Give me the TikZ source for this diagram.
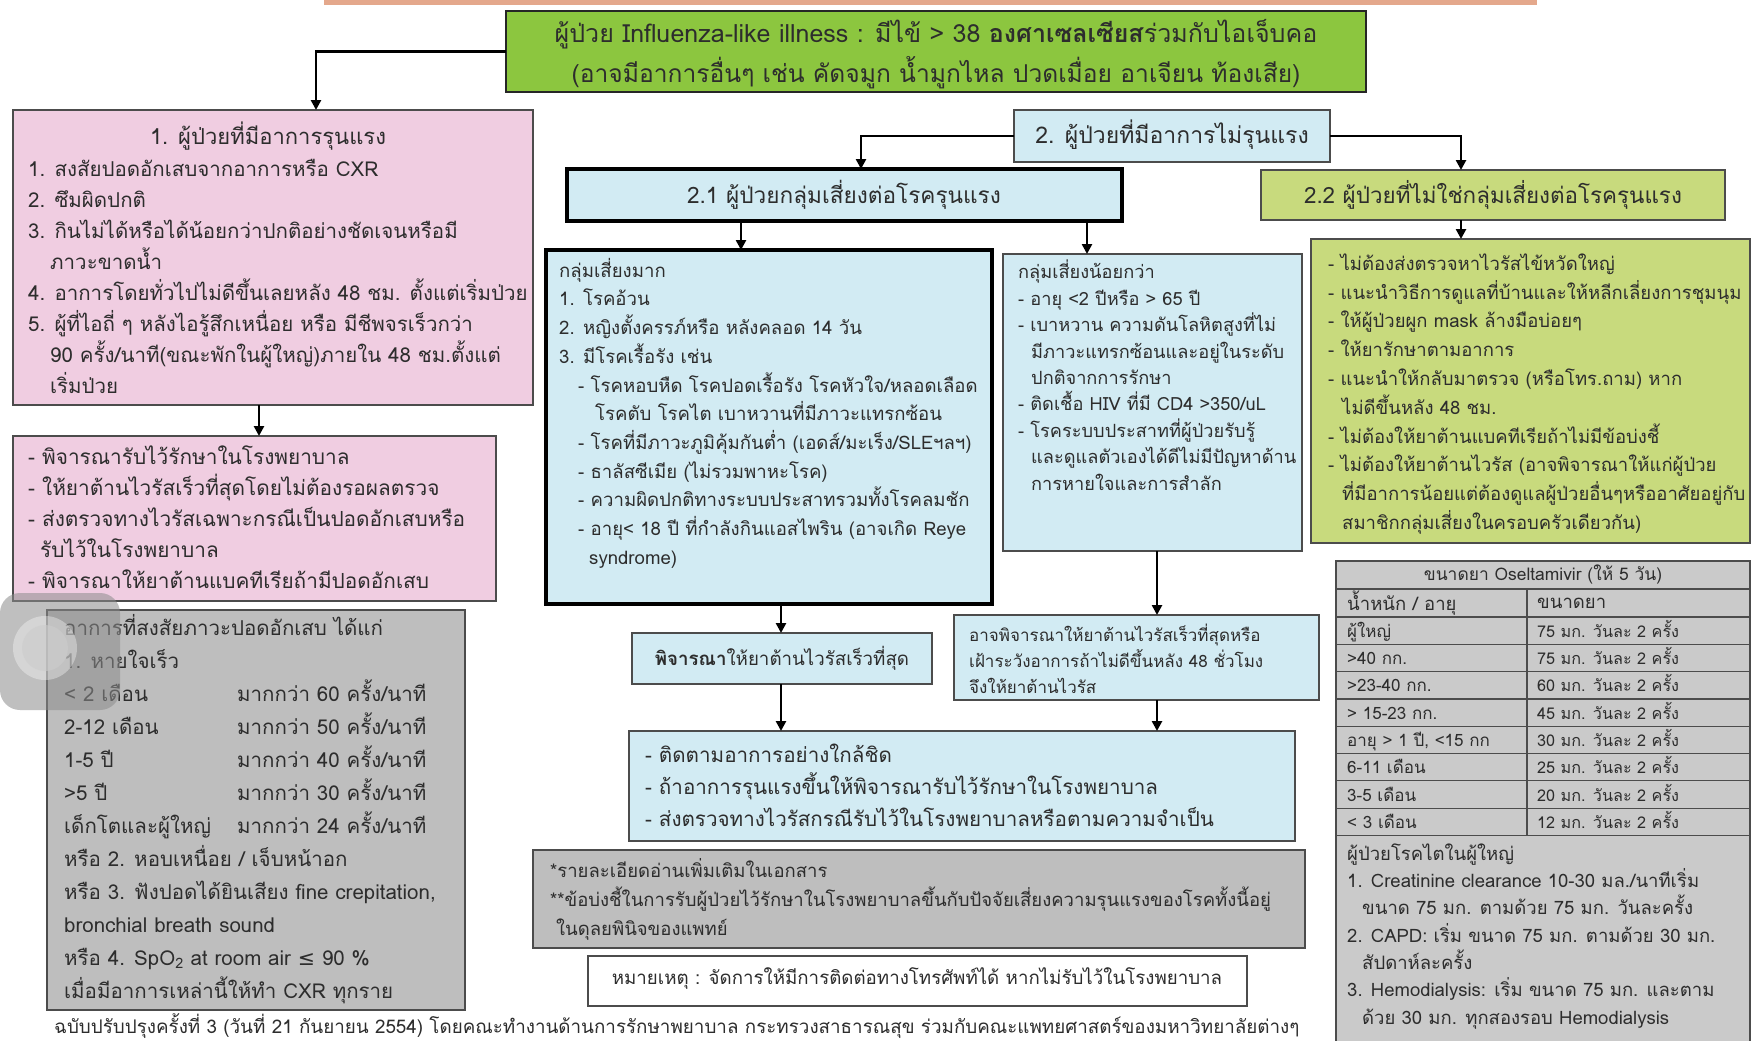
\documentclass[tikz,border=0pt]{standalone}
\usepackage{fontspec}
\setmainfont{Loma}[Script=Thai]
\newfontfamily\djv{DejaVu Sans}
\usetikzlibrary{arrows.meta}
\newcommand\myfs[2]{\fontsize{#1}{#2}\selectfont}
\definecolor{ilic}{RGB}{140,198,63}
\definecolor{pinkf}{RGB}{240,205,225}
\definecolor{bluef}{RGB}{210,235,243}
\definecolor{olivef}{RGB}{200,218,125}
\definecolor{grayf}{RGB}{190,190,190}
\definecolor{tblf}{RGB}{202,202,202}
\definecolor{txtc}{RGB}{45,45,45}
\definecolor{bandc}{RGB}{228,168,140}
\begin{document}
\begin{tikzpicture}[x=1pt,y=-1pt,
 box/.style={anchor=north west, inner sep=0pt, outer sep=0pt, draw=black!70, line width=1.3pt},
 heavy/.style={draw=black, line width=4pt},
 tx/.style={anchor=north west, inner sep=0pt, align=left, text=txtc},
 tc/.style={anchor=center, inner sep=0pt, text=txtc},
 tw/.style={anchor=west, inner sep=0pt, text=txtc},
 arr/.style={line width=2.6pt, -{Triangle[length=10pt,width=10pt]}},
]
\useasboundingbox (0,0) rectangle (1753,1041);
\fill[white] (0,0) rectangle (1753,1041);
\fill[bandc] (324,0) rectangle (1537,5);

% boxes
\node[box, fill=ilic, draw=black!85, line width=1.6pt, minimum width=860pt, minimum height=81pt] (ili) at (506,11) {};
\node[box, fill=pinkf, minimum width=520pt, minimum height=295pt] (p1) at (13,110) {};
\node[box, fill=pinkf, minimum width=483pt, minimum height=165pt] (p2) at (13,436) {};
\node[box, fill=grayf, minimum width=418pt, minimum height=400pt] (gb) at (47,610) {};
\node[box, fill=bluef, minimum width=316pt, minimum height=52pt] (b2) at (1014,110) {};
\node[box, heavy, fill=bluef, minimum width=555pt, minimum height=52pt] (b21) at (567,169) {};
\node[box, fill=olivef, minimum width=464pt, minimum height=50pt] (b22) at (1261,170) {};
\node[box, heavy, fill=bluef, minimum width=446pt, minimum height=354pt] (hr) at (546,250) {};
\node[box, fill=bluef, minimum width=299pt, minimum height=297pt] (lr) at (1003,254) {};
\node[box, fill=olivef, minimum width=439pt, minimum height=304pt] (d22) at (1311,239) {};
\node[box, fill=bluef, minimum width=300pt, minimum height=51pt] (cons) at (632,633) {};
\node[box, fill=bluef, minimum width=365pt, minimum height=85pt] (maybe) at (954,615) {};
\node[box, fill=bluef, minimum width=666pt, minimum height=110pt] (fu) at (629,731) {};
\node[box, fill=grayf, minimum width=772pt, minimum height=98pt] (fn) at (533,850) {};
\node[box, fill=white, minimum width=659pt, minimum height=50pt] (note) at (588,956) {};
\node[box, fill=tblf, minimum width=414pt, minimum height=490pt] (tbl) at (1336,561) {};

% table grid
\foreach \yy in {589,617,644.3,671.6,698.9,726.2,753.5,780.8,808.1,835.4}
  \draw[black!70, line width=1.2pt] (1336,\yy) -- (1750,\yy);
\draw[black!70, line width=1.2pt] (1527,589) -- (1527,835.4);

% connectors
\coordinate (c1) at (316,0);
\coordinate (c2) at (259,0);
\coordinate (c3) at (861,0);
\coordinate (c4) at (1461,0);
\coordinate (c5) at (741,0);
\coordinate (c6) at (1087,0);
\coordinate (c7) at (781,0);
\coordinate (c8) at (1157,0);
\draw[arr] (ili.west) -| (c1 |- p1.north);
\draw[arr] (c2 |- p1.south) -- (c2 |- p2.north);
\draw[arr] (b2.west) -| (c3 |- b21.north);
\draw[arr] (b2.east) -| (c4 |- b22.north);
\draw[arr] (c5 |- b21.south) -- (c5 |- hr.north);
\draw[arr] (c6 |- b21.south) -- (c6 |- lr.north);
\draw[arr] (c4 |- b22.south) -- (c4 |- d22.north);
\draw[arr] (c7 |- hr.south) -- (c7 |- cons.north);
\draw[arr] (c8 |- lr.south) -- (c8 |- maybe.north);
\draw[arr] (c7 |- cons.south) -- (c7 |- fu.north);
\draw[arr] (c8 |- maybe.south) -- (c8 |- fu.north);

% texts
\node[tc, font=\myfs{25}{28}] (ili1) at (936,34) {ผู้ป่วย Influenza-like illness : มีไข้ > 38 \textbf{องศาเซลเซียส}ร่วมกับไอเจ็บคอ};
\node[tc, font=\myfs{24.6}{28}] (ili2) at (936,73) {(อาจมีอาการอื่นๆ เช่น คัดจมูก น้ำมูกไหล ปวดเมื่อย อาเจียน ท้องเสีย)};

\node[tc, font=\myfs{22}{26}] (p1h) at (268,136) {1. ผู้ป่วยที่มีอาการรุนแรง};
\node[tx, font=\myfs{20.5}{31}] (p1t) at (28,155) {\strut 1. สงสัยปอดอักเสบจากอาการหรือ CXR\\
2. ซึมผิดปกติ\\
3. กินไม่ได้หรือได้น้อยกว่าปกติอย่างชัดเจนหรือมี\\
\hspace*{22pt}ภาวะขาดน้ำ\\
4. อาการโดยทั่วไปไม่ดีขึ้นเลยหลัง 48 ชม. ตั้งแต่เริ่มป่วย\\
5. ผู้ที่ไอถี่ ๆ หลังไอรู้สึกเหนื่อย หรือ มีชีพจรเร็วกว่า\\
\hspace*{22pt}90 ครั้ง/นาที(ขณะพักในผู้ใหญ่)ภายใน 48 ชม.ตั้งแต่\\
\hspace*{22pt}เริ่มป่วย};

\node[tx, font=\myfs{20.8}{31}] (p2t) at (28,443) {\strut - พิจารณารับไว้รักษาในโรงพยาบาล\\
- ให้ยาต้านไวรัสเร็วที่สุดโดยไม่ต้องรอผลตรวจ\\
- ส่งตรวจทางไวรัสเฉพาะกรณีเป็นปอดอักเสบหรือ\\
\hspace*{12pt}รับไว้ในโรงพยาบาล\\
- พิจารณาให้ยาต้านแบคทีเรียถ้ามีปอดอักเสบ};

\node[tx, font=\myfs{20.5}{33}] (gbt) at (64,612) {\strut อาการที่สงสัยภาวะปอดอักเสบ ได้แก่\\
1. หายใจเร็ว\\
< 2 เดือน\\
2-12 เดือน\\
1-5 ปี\\
>5 ปี\\
เด็กโตและผู้ใหญ่\\
หรือ 2. หอบเหนื่อย / เจ็บหน้าอก\\
หรือ 3. ฟังปอดได้ยินเสียง fine crepitation,\\
bronchial breath sound\\
หรือ 4. SpO\textsubscript{2} at room air {\djv ≤} 90 \%\\
เมื่อมีอาการเหล่านี้ให้ทำ CXR ทุกราย};
\node[tx, font=\myfs{20.5}{33}] (gbr) at (237,678) {\strut มากกว่า 60 ครั้ง/นาที\\
มากกว่า 50 ครั้ง/นาที\\
มากกว่า 40 ครั้ง/นาที\\
มากกว่า 30 ครั้ง/นาที\\
มากกว่า 24 ครั้ง/นาที};

\node[tc, font=\myfs{23}{26}] (b2t) at (1172,135) {2. ผู้ป่วยที่มีอาการไม่รุนแรง};
\node[tc, font=\myfs{22.6}{26}] (b21t) at (844,195) {2.1 ผู้ป่วยกลุ่มเสี่ยงต่อโรครุนแรง};
\node[tc, font=\myfs{22.4}{26}] (b22t) at (1493,195) {2.2 ผู้ป่วยที่ไม่ใช่กลุ่มเสี่ยงต่อโรครุนแรง};

\node[tx, font=\myfs{18.6}{28.7}] (hrt) at (559,257) {\strut กลุ่มเสี่ยงมาก\\
1. โรคอ้วน\\
2. หญิงตั้งครรภ์หรือ หลังคลอด 14 วัน\\
3. มีโรคเรื้อรัง เช่น\\
\hspace*{19pt}- โรคหอบหืด โรคปอดเรื้อรัง โรคหัวใจ/หลอดเลือด\\
\hspace*{36pt}โรคตับ โรคไต เบาหวานที่มีภาวะแทรกซ้อน\\
\hspace*{19pt}- โรคที่มีภาวะภูมิคุ้มกันต่ำ (เอดส์/มะเร็ง/SLEฯลฯ)\\
\hspace*{19pt}- ธาลัสซีเมีย (ไม่รวมพาหะโรค)\\
\hspace*{19pt}- ความผิดปกติทางระบบประสาทรวมทั้งโรคลมชัก\\
\hspace*{19pt}- อายุ< 18 ปี ที่กำลังกินแอสไพริน  (อาจเกิด Reye\\
\hspace*{30pt}syndrome)};

\node[tx, font=\myfs{18.2}{26.4}] (lrt) at (1018,260) {\strut กลุ่มเสี่ยงน้อยกว่า\\
- อายุ <2 ปีหรือ > 65 ปี\\
- เบาหวาน ความดันโลหิตสูงที่ไม่\\
\hspace*{13pt}มีภาวะแทรกซ้อนและอยู่ในระดับ\\
\hspace*{13pt}ปกติจากการรักษา\\
- ติดเชื้อ HIV ที่มี CD4 >350/uL\\
- โรคระบบประสาทที่ผู้ป่วยรับรู้\\
\hspace*{13pt}และดูแลตัวเองได้ดีไม่มีปัญหาด้าน\\
\hspace*{13pt}การหายใจและการสำลัก};

\node[tx, font=\myfs{18.5}{28.8}] (d22t) at (1328,250) {\strut - ไม่ต้องส่งตรวจหาไวรัสไข้หวัดใหญ่\\
- แนะนำวิธีการดูแลที่บ้านและให้หลีกเลี่ยงการชุมนุม\\
- ให้ผู้ป่วยผูก mask ล้างมือบ่อยๆ\\
- ให้ยารักษาตามอาการ\\
- แนะนำให้กลับมาตรวจ (หรือโทร.ถาม) หาก\\
\hspace*{14pt}ไม่ดีขึ้นหลัง 48 ชม.\\
- ไม่ต้องให้ยาต้านแบคทีเรียถ้าไม่มีข้อบ่งชี้\\
- ไม่ต้องให้ยาต้านไวรัส (อาจพิจารณาให้แก่ผู้ป่วย\\
\hspace*{14pt}ที่มีอาการน้อยแต่ต้องดูแลผู้ป่วยอื่นๆหรืออาศัยอยู่กับ\\
\hspace*{14pt}สมาชิกกลุ่มเสี่ยงในครอบครัวเดียวกัน)};

\node[tc, font=\myfs{18.7}{22}] (const) at (782,658) {\textbf{พิจารณา}ให้ยาต้านไวรัสเร็วที่สุด};
\node[tx, font=\myfs{17}{25.5}] (maybet) at (969,623) {\strut อาจพิจารณาให้ยาต้านไวรัสเร็วที่สุดหรือ\\
เฝ้าระวังอาการถ้าไม่ดีขึ้นหลัง 48 ชั่วโมง\\
จึงให้ยาต้านไวรัส};
\node[tx, font=\myfs{20.6}{32}] (fut) at (645,740) {\strut - ติดตามอาการอย่างใกล้ชิด\\
- ถ้าอาการรุนแรงขึ้นให้พิจารณารับไว้รักษาในโรงพยาบาล\\
- ส่งตรวจทางไวรัสกรณีรับไว้ในโรงพยาบาลหรือตามความจำเป็น};
\node[tx, font=\myfs{18.5}{29}] (fnt) at (550,857) {\strut *รายละเอียดอ่านเพิ่มเติมในเอกสาร\\
**ข้อบ่งชี้ในการรับผู้ป่วยไว้รักษาในโรงพยาบาลขึ้นกับปัจจัยเสี่ยงความรุนแรงของโรคทั้งนี้อยู่\\
\hspace*{6pt}ในดุลยพินิจของแพทย์};
\node[tc, font=\myfs{18.7}{22}] (notet) at (917,979) {หมายเหตุ : จัดการให้มีการติดต่อทางโทรศัพท์ได้ หากไม่รับไว้ในโรงพยาบาล};
\node[tw, font=\myfs{18.8}{22}] (foot) at (54,1026) {ฉบับปรับปรุงครั้งที่ 3  (วันที่ 21 กันยายน 2554) โดยคณะทำงานด้านการรักษาพยาบาล  กระทรวงสาธารณสุข  ร่วมกับคณะแพทยศาสตร์ของมหาวิทยาลัยต่างๆ};

% table text
\node[tc, font=\myfs{17.4}{20}] (th) at (1543,575) {ขนาดยา Oseltamivir (ให้ 5 วัน)};
\node[tw, font=\myfs{18.5}{20}] (th1) at (1347,603) {น้ำหนัก / อายุ};
\node[tw, font=\myfs{18.5}{20}] (th2) at (1537,603) {ขนาดยา};
\node[tx, font=\myfs{17}{27.3}] (tl) at (1347,618) {\strut ผู้ใหญ่\\ >40 กก.\\ >23-40 กก.\\ > 15-23 กก.\\ อายุ > 1 ปี, <15 กก\\ 6-11 เดือน\\ 3-5 เดือน\\ < 3 เดือน};
\node[tx, font=\myfs{16.2}{27.3}] (tr) at (1537,618) {\strut 75 มก. วันละ 2 ครั้ง\\ 75 มก. วันละ 2 ครั้ง\\ 60 มก. วันละ 2 ครั้ง\\ 45 มก. วันละ 2 ครั้ง\\ 30 มก. วันละ 2 ครั้ง\\ 25 มก. วันละ 2 ครั้ง\\ 20 มก. วันละ 2 ครั้ง\\ 12 มก. วันละ 2 ครั้ง};
\node[tx, font=\myfs{18.5}{27.3}] (kd) at (1347,841) {\strut ผู้ป่วยโรคไตในผู้ใหญ่\\
1. Creatinine clearance 10-30 มล./นาทีเริ่ม\\
\hspace*{15pt}ขนาด 75 มก. ตามด้วย 75 มก. วันละครั้ง\\
2. CAPD: เริ่ม ขนาด 75 มก. ตามด้วย 30 มก.\\
\hspace*{15pt}สัปดาห์ละครั้ง\\
3. Hemodialysis: เริ่ม ขนาด 75 มก. และตาม\\
\hspace*{15pt}ด้วย 30 มก. ทุกสองรอบ Hemodialysis};

% screen overlay button
\fill[black!45, opacity=0.55, rounded corners=20pt] (0,593) rectangle (120,710);
\fill[white, opacity=0.35] (45,648) circle (32);
\fill[black!20, opacity=0.6] (45,648) circle (23);
\end{tikzpicture}
\end{document}
